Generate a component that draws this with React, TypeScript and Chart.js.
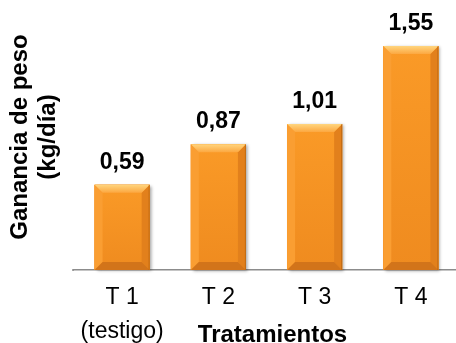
import React, { useEffect, useRef } from "react";
import { Chart, registerables } from "chart.js";

Chart.register(...registerables);

const categories: (string | string[])[] = [["T 1", "(testigo)"], "T 2", "T 3", "T 4"];
const values = [0.59, 0.87, 1.01, 1.55];
const valueLabels = ["0,59", "0,87", "1,01", "1,55"];
const yTitleLines = ["Ganancia de peso", "(kg/día)"];
const xTitle = "Tratamientos";

const FONT = 'Arial, "Liberation Sans", sans-serif';

const decorPlugin = {
  id: "decor",
  beforeDatasetsDraw(chart: any) {
    const ctx = chart.ctx;
    const meta = chart.getDatasetMeta(0);
    ctx.save();
    meta.data.forEach((bar: any) => {
      const { x, y, base, width } = bar.getProps(["x", "y", "base", "width"], true);
      ctx.save();
      ctx.shadowColor = "rgba(0,0,0,0.35)";
      ctx.shadowBlur = 3;
      ctx.shadowOffsetX = 2;
      ctx.shadowOffsetY = 1;
      ctx.fillStyle = "#E8871E";
      ctx.fillRect(x - width / 2, y, width, base - y);
      ctx.restore();
    });
    ctx.restore();
  },
  afterDatasetsDraw(chart: any) {
    const ctx = chart.ctx;
    const meta = chart.getDatasetMeta(0);
    ctx.save();
    meta.data.forEach((bar: any) => {
      const { x, y, base, width } = bar.getProps(["x", "y", "base", "width"], true);
      const l = x - width / 2;
      const r = x + width / 2;
      const t = y;
      const b = base;
      const bv = 8;
      const g = ctx.createLinearGradient(0, t, 0, b);
      g.addColorStop(0, "#FA9A27");
      g.addColorStop(1, "#EF8B1F");
      ctx.fillStyle = g;
      ctx.fillRect(l, t, width, b - t);
      const poly = (pts: number[][], fill: any) => {
        ctx.beginPath();
        ctx.moveTo(pts[0][0], pts[0][1]);
        for (let k = 1; k < pts.length; k++) ctx.lineTo(pts[k][0], pts[k][1]);
        ctx.closePath();
        ctx.fillStyle = fill;
        ctx.fill();
      };
      poly([[l, t], [l + bv, t + bv], [l + bv, b - bv], [l, b]], "#FA9E32");
      poly([[r, t], [r, b], [r - bv, b - bv], [r - bv, t + bv]], "#E2801C");
      poly([[l, b], [l + bv, b - bv], [r - bv, b - bv], [r, b]], "#D2741A");
      const tg = ctx.createLinearGradient(0, t, 0, t + bv);
      tg.addColorStop(0, "#FFD57E");
      tg.addColorStop(1, "#FCA740");
      poly([[l, t], [r, t], [r - bv, t + bv], [l + bv, t + bv]], tg);
      ctx.strokeStyle = "rgba(150,80,10,0.45)";
      ctx.lineWidth = 1;
      ctx.beginPath();
      ctx.moveTo(r - 0.5, t);
      ctx.lineTo(r - 0.5, b);
      ctx.stroke();
    });
    ctx.restore();
  },
  afterDraw(chart: any) {
    const ctx = chart.ctx;
    const meta = chart.getDatasetMeta(0);
    const area = chart.chartArea;
    ctx.save();
    // baseline extension to the left
    ctx.strokeStyle = "#8c8c8c";
    ctx.lineWidth = 1.5;
    ctx.beginPath();
    ctx.moveTo(area.left - 2, area.bottom);
    ctx.lineTo(area.left, area.bottom);
    ctx.stroke();
    ctx.fillStyle = "#000";
    ctx.font = `bold 23px ${FONT}`;
    ctx.textAlign = "center";
    ctx.textBaseline = "alphabetic";
    meta.data.forEach((bar: any, i: number) => {
      const { x, y } = bar.getProps(["x", "y"], true);
      ctx.fillText(valueLabels[i], x, y - 16);
    });
    ctx.font = `bold 24px ${FONT}`;
    ctx.textBaseline = "middle";
    const yMid = 137;
    [20, 48].forEach((xx, i) => {
      ctx.save();
      ctx.translate(xx, yMid);
      ctx.rotate(-Math.PI / 2);
      ctx.fillText(yTitleLines[i], 0, 0);
      ctx.restore();
    });
    ctx.textBaseline = "alphabetic";
    ctx.fillText(xTitle, (area.left + area.right) / 2 + 6, chart.height - 1);
    ctx.restore();
  },
};

export default function App() {
  const ref = useRef<HTMLCanvasElement | null>(null);
  useEffect(() => {
    if (!ref.current) return;
    const chart = new Chart(ref.current, {
      type: "bar",
      data: {
        labels: categories as any,
        datasets: [
          {
            data: values,
            backgroundColor: "#F7921E",
            borderWidth: 0,
            barPercentage: 0.572,
            categoryPercentage: 1,
          },
        ],
      },
      options: {
        responsive: false,
        animation: false,
        layout: { padding: { left: 74, top: 10, right: 0, bottom: 0 } },
        plugins: { legend: { display: false }, tooltip: { enabled: false } },
        scales: {
          x: {
            grid: { display: false, drawTicks: false },
            border: { display: true, color: "#8c8c8c", width: 1.5 },
            ticks: {
              color: "#000",
              font: { family: FONT, size: 23, lineHeight: 1.5 },
              padding: 10,
              maxRotation: 0,
              autoSkip: false,
            },
            afterFit: (s: any) => {
              s.height = 73;
            },
          },
          y: { display: false, min: 0, max: 1.8 },
        },
      },
      plugins: [decorPlugin],
    });
    return () => chart.destroy();
  }, []);
  return (
    <div
      style={{
        position: "fixed",
        left: 0,
        top: 0,
        width: 456,
        height: 343,
        overflow: "hidden",
        background: "#fff",
      }}
    >
      <canvas ref={ref} width={459} height={343} style={{ display: "block" }} />
    </div>
  );
}
